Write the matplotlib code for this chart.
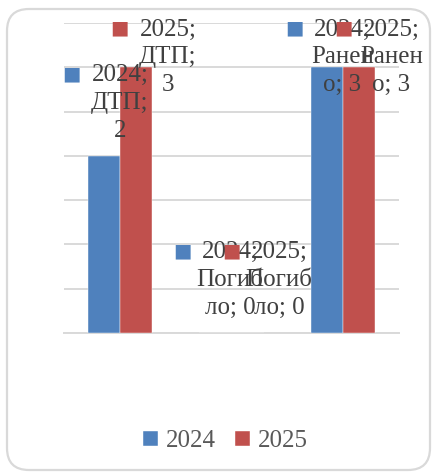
import matplotlib
matplotlib.use('Agg')
import numpy as np
import matplotlib.pyplot as plt
from matplotlib.patches import FancyBboxPatch
from matplotlib.transforms import IdentityTransform

categories = ['ДТП', 'Погибло', 'Ранено']
years = ['2024', '2025']
values_2024 = [2, 0, 3]
values_2025 = [3, 0, 3]
# how Excel wrapped the data labels
label_wrap = ['ДТП;\n{v}', 'Погиб\nло; {v}', 'Ранен\nо; {v}']

colors = ['#4F81BD', '#C0504D']
text_color = '#404040'
grid_color = '#D9D9D9'

fig = plt.figure(figsize=(4.33, 4.75), dpi=100)
ax = fig.add_axes([0.1478, 0.2989, 0.7737, 0.6526])

x = np.arange(len(categories))
w = 0.2866
series = [values_2024, values_2025]
for i, vals in enumerate(series):
    ax.bar(x + (i - 0.5) * w, vals, w, color=colors[i], label=years[i],
           edgecolor='white', linewidth=0.3, zorder=3)

ax.set_xlim(-0.5, 2.5)
ax.set_ylim(0, 3.5)
ax.set_yticks(np.arange(0, 3.51, 0.5))
ax.yaxis.grid(True, color=grid_color, linewidth=1.4)
ax.set_axisbelow(True)
ax.tick_params(left=False, bottom=False, labelleft=False, labelbottom=False)
for s in ['top', 'right', 'left']:
    ax.spines[s].set_visible(False)
ax.spines['bottom'].set_color(grid_color)
ax.spines['bottom'].set_linewidth(1.4)

# label offsets in pixels (text centre relative to bar top)
offsets = [
    [(16, 53), (14.5, 53), (15, 10)],
    [(32, 10), (31.5, 53), (32, 10)],
]
for i, vals in enumerate(series):
    for j, v in enumerate(vals):
        bx = x[j] + (i - 0.5) * w
        dx, dy = offsets[i][j]
        txt = years[i] + ';\n' + label_wrap[j].format(v=v)
        ax.annotate(txt, (bx, v), xytext=(dx, dy), textcoords='offset pixels',
                    ha='center', va='center', fontsize=18, family='Liberation Serif',
                    color=text_color, linespacing=1.34, annotation_clip=False, zorder=5)
        ax.annotate('■', (bx, v), xytext=(dx - 48, dy + 29), textcoords='offset pixels',
                    ha='center', va='center', fontsize=14, family='DejaVu Sans',
                    color=colors[i], annotation_clip=False, zorder=5)

leg = fig.legend(loc='center', bbox_to_anchor=(0.52, 0.071), ncol=2, frameon=False,
                 prop={'family': 'Liberation Serif', 'size': 18},
                 handlelength=0.6, handleheight=0.6, handletextpad=0.32,
                 columnspacing=0.75, labelcolor='#595959')

border = FancyBboxPatch((7, 5), 423, 461, boxstyle='round,pad=0,rounding_size=22',
                        transform=IdentityTransform(), facecolor='none',
                        edgecolor=grid_color, linewidth=1.6)
fig.add_artist(border)

fig.savefig('out.png', dpi=100)
